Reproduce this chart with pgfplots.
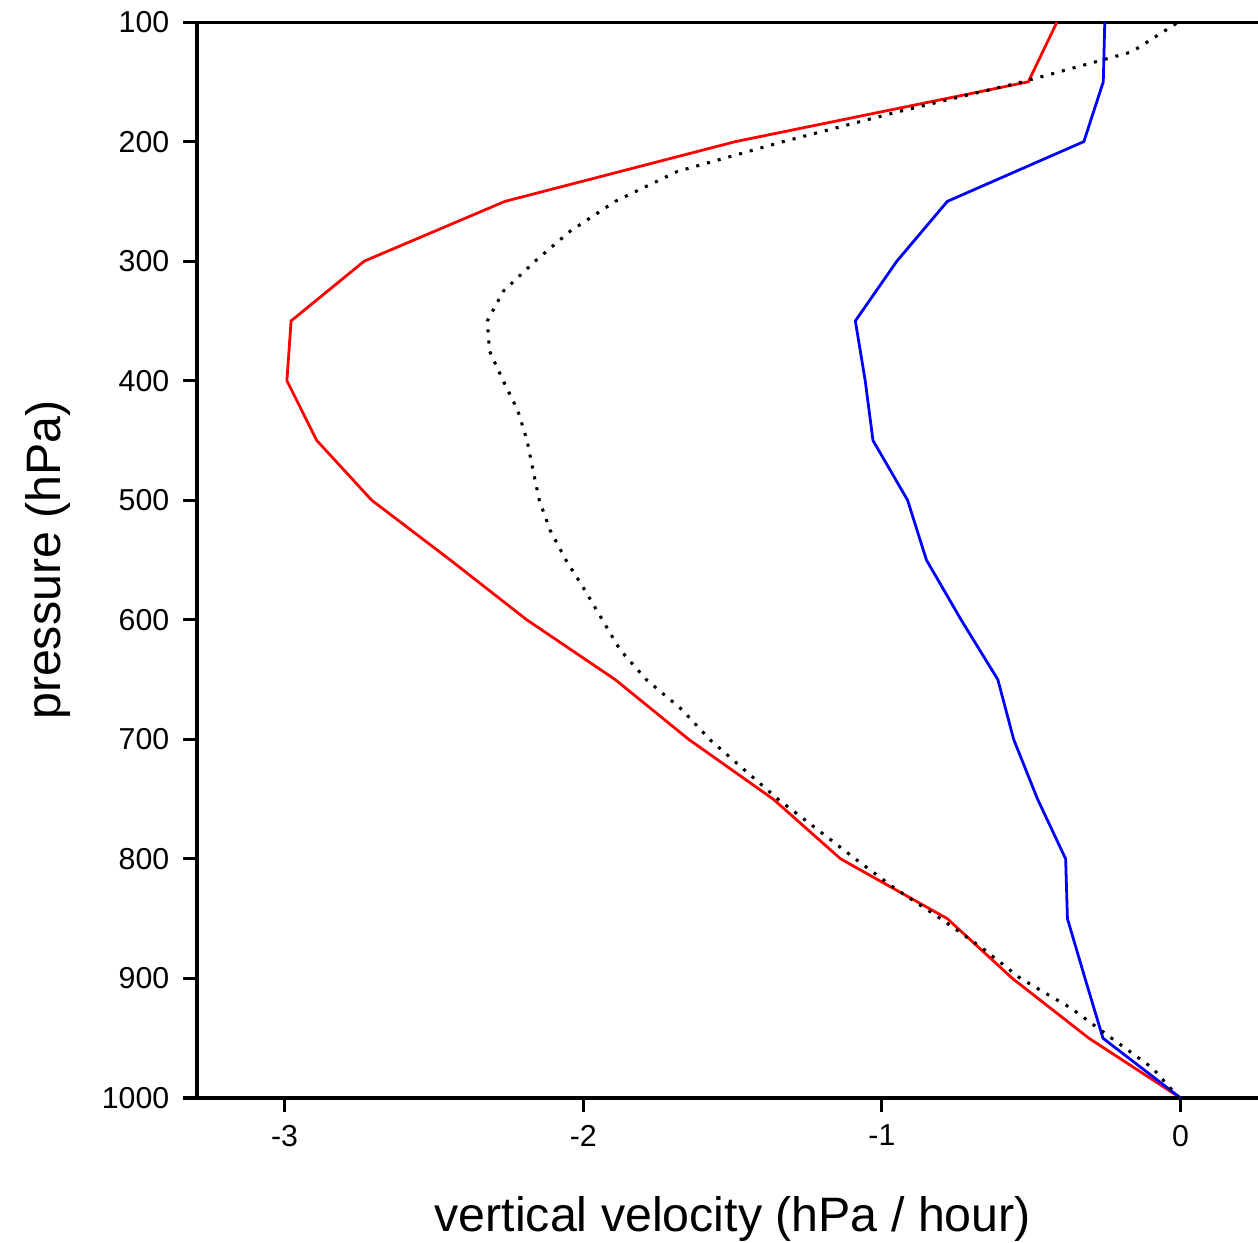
\documentclass[border=0pt]{standalone}
\usepackage{fontspec}
\setmainfont{Liberation Sans}
\usepackage{pgfplots}
\pgfplotsset{compat=1.18}
\begin{document}
\begin{tikzpicture}
\begin{axis}[
  at={(0pt,0pt)}, anchor=south west,
  scale only axis, width=381.96pt, height=387.36pt,
  xmin=-3.293, xmax=0.259, ymin=100, ymax=1000, y dir=reverse,
  axis x line=box, axis y line=left,
  axis line style={-, line width=1.1pt, black},
  xtick={-3,-2,-1,0}, ytick={100,200,...,1000},
  xtick pos=bottom, ytick pos=left,
  tick align=outside, major tick length=5pt,
  tick style={line width=1.1pt, black},
  /pgf/number format/assume math mode=true,
  /pgf/number format/1000 sep={},
  ticklabel style={font=\fontsize{10.9}{13}\selectfont},
  yticklabel style={inner sep=2pt, xshift=-2.8pt},
  xticklabel style={inner sep=2pt, yshift=-2.5pt},
  xlabel={vertical velocity (hPa / hour)},
  ylabel={pressure (hPa)},
  xlabel style={at={([yshift=-48.2pt]axis description cs:0.505,0)}, anchor=base, font=\fontsize{17.4}{20}\selectfont},
  ylabel style={at={([xshift=-49.3pt]axis description cs:0,0.5)}, anchor=base, font=\fontsize{17.4}{20}\selectfont},
]
\addplot[red, line width=1pt] coordinates {
 (0,1000) (-0.307,950) (-0.563,900) (-0.781,850) (-1.138,800) (-1.364,750)
 (-1.647,700) (-1.893,650) (-2.189,600) (-2.445,550) (-2.708,500) (-2.892,450)
 (-2.992,400) (-2.978,350) (-2.733,300) (-2.262,250) (-1.490,200) (-0.510,150) (-0.414,100)
};
\addplot[blue, line width=1pt] coordinates {
 (0,1000) (-0.260,950) (-0.320,900) (-0.379,850) (-0.385,800) (-0.479,750)
 (-0.559,700) (-0.612,650) (-0.735,600) (-0.851,550) (-0.914,500) (-1.030,450)
 (-1.056,400) (-1.089,350) (-0.950,300) (-0.781,250) (-0.324,200) (-0.259,150) (-0.254,100)
};
\addplot[black, line width=1.1pt, dash pattern=on 1.1pt off 2.9pt] coordinates {
 (-0.005,1000) (-0.094,975) (-0.231,950) (-0.366,925) (-0.536,900) (-0.662,875)
 (-0.803,850) (-0.955,825) (-1.089,800) (-1.218,775) (-1.348,750) (-1.463,725)
 (-1.577,700) (-1.670,675) (-1.789,650) (-1.877,625) (-1.936,600) (-1.995,575)
 (-2.058,550) (-2.111,525) (-2.147,500) (-2.168,475) (-2.188,450) (-2.219,425)
 (-2.268,400) (-2.314,375) (-2.321,350) (-2.267,325) (-2.161,300) (-2.044,275)
 (-1.893,250) (-1.685,225) (-1.330,200) (-0.945,175) (-0.528,150) (-0.164,125) (-0.007,100)
};
\end{axis}
\pgfresetboundingbox
\path (-70.92pt,-52.2pt) rectangle (381.96pt,395.28pt);
\end{tikzpicture}
\end{document}
